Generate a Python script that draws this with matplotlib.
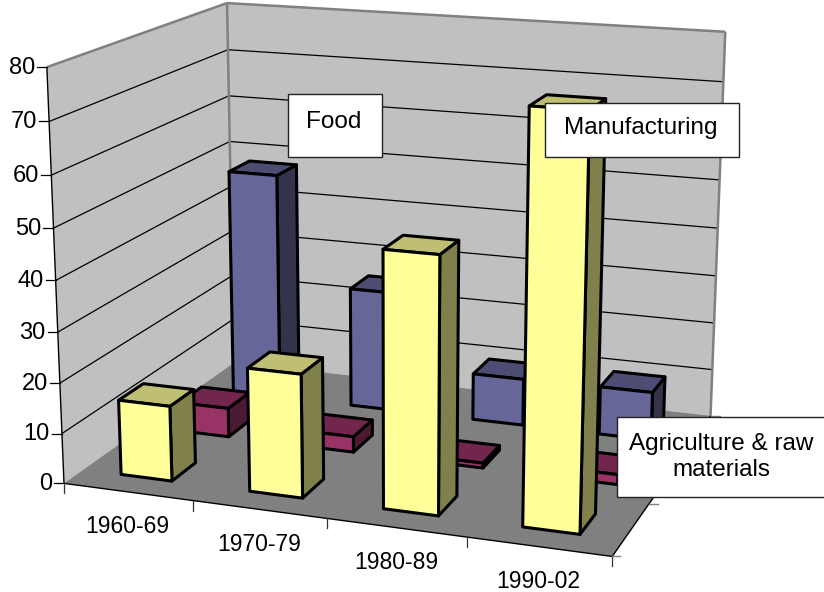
import numpy as np
import matplotlib
matplotlib.use("Agg")
import matplotlib.pyplot as plt
from matplotlib.patches import Polygon

plt.rcParams['font.family'] = ['Liberation Sans', 'DejaVu Sans']

categories = ["1960-69", "1970-79", "1980-89", "1990-02"]
series_names = ["Manufacturing", "Agriculture & raw materials", "Food"]
manufacturing = [15, 24.3, 49.5, 77.4]
agriculture = [6, 3.2, 1, 2]
food = [48, 25.3, 9.8, 10]
value_ticks = [0, 10, 20, 30, 40, 50, 60, 70, 80]

W, H = 824, 592
fig = plt.figure(figsize=(W / 100, H / 100), dpi=100)
ax = fig.add_axes([0, 0, 1, 1])
ax.set_xlim(0, W)
ax.set_ylim(H, 0)
ax.axis('off')

# Camera: projective map of (category, depth, value) fitted to the box corners
nx, ny, nz = len(categories), 3, 80
world = [(0, 0, 0), (0, 0, nz), (0, ny, 0), (0, ny, nz), (nx, ny, nz), (nx, ny, 0), (nx, 0, 0)]
screen = [(65, 483), (46, 67), (233, 363), (228, 3), (725, 32), (711, 415), (612, 557)]
A, b = [], []
for (X, Y, Z), (u, v) in zip(world, screen):
    A.append([X, Y, Z, 1, 0, 0, 0, 0, -u * X, -u * Y, -u * Z])
    A.append([0, 0, 0, 0, X, Y, Z, 1, -v * X, -v * Y, -v * Z])
    b += [u, v]
p = np.linalg.lstsq(np.array(A, float), np.array(b, float), rcond=None)[0]
P = np.append(p, 1.0).reshape(3, 4)


def proj(x, y, z):
    h = P @ np.array([x, y, z, 1.0])
    return h[0] / h[2], h[1] / h[2]


def quad(points, fc, ec='none', lw=0.0, z=1):
    ax.add_patch(Polygon([proj(*q) for q in points], closed=True, facecolor=fc,
                         edgecolor=ec, linewidth=lw, joinstyle='round', zorder=z))


def seg(a, b, color='black', lw=0.9, z=2):
    (x0, y0), (x1, y1) = proj(*a), proj(*b)
    ax.plot([x0, x1], [y0, y1], color=color, lw=lw, zorder=z, solid_capstyle='butt')


# walls and floor
quad([(0, 0, 0), (0, ny, 0), (0, ny, nz), (0, 0, nz)], '#C0C0C0')
quad([(0, ny, 0), (nx, ny, 0), (nx, ny, nz), (0, ny, nz)], '#C0C0C0')
quad([(0, 0, 0), (nx, 0, 0), (nx, ny, 0), (0, ny, 0)], '#808080')

for v in value_ticks[1:-1]:
    seg((0, 0, v), (0, ny, v))
    seg((0, ny, v), (nx, ny, v))
seg((0, 0, nz), (0, ny, nz), '#808080', 1.8)
seg((0, ny, nz), (nx, ny, nz), '#808080', 1.8)
seg((0, ny, 0), (0, ny, nz), '#808080', 1.8)
seg((nx, ny, 0), (nx, ny, nz), '#808080', 1.8)

# axes lines, ticks, labels
seg((0, 0, 0), (0, 0, nz), 'black', 1.0, 3)
seg((0, 0, 0), (nx, 0, 0), 'black', 1.0, 3)
seg((nx, 0, 0), (nx, ny, 0), 'black', 1.0, 3)
for v in value_ticks:
    u0, v0 = proj(0, 0, v)
    ax.plot([u0 - 10, u0], [v0, v0], color='black', lw=0.9, zorder=3)
    ax.text(u0 - 12, v0 + 0.5, str(v), ha='right', va='center', fontsize=17, color='black')
for i in range(nx + 1):
    u0, v0 = proj(i, 0, 0)
    ax.plot([u0, u0], [v0, v0 + 10], color='#333333', lw=0.9, zorder=3)
for k in range(1, ny + 1):
    u0, v0 = proj(nx, k, 0)
    ax.plot([u0, u0 + 9], [v0, v0], color='#808080', lw=1.0, zorder=3)
u0, v0 = proj(nx, 0, 0)
ax.plot([u0, u0 + 8], [v0, v0], color='#808080', lw=1.0, zorder=3)
for i, lab in enumerate(categories):
    u0, v0 = proj(i + 0.5, 0, 0)
    ax.text(u0, v0 + 35, lab, ha='center', va='center', fontsize=16.5, color='black')

# bars, back row to front
rows = [(2, food, '#666699', '#4D4D73', '#33334D'),
        (1, agriculture, '#993366', '#73264D', '#4D1A33'),
        (0, manufacturing, '#FFFF99', '#BFBF73', '#80804D')]
g = 0.3
bar_lw = 2.2
zo = 4
for k, vals, front, top, side in rows:
    for i, h in enumerate(vals):
        x0, x1 = i + g, i + 1 - g
        y0, y1 = k + g, k + 1 - g
        quad([(x1, y0, 0), (x1, y1, 0), (x1, y1, h), (x1, y0, h)], side, 'black', bar_lw, zo)
        quad([(x0, y0, h), (x1, y0, h), (x1, y1, h), (x0, y1, h)], top, 'black', bar_lw, zo)
        quad([(x0, y0, 0), (x1, y0, 0), (x1, y0, h), (x0, y0, h)], front, 'black', bar_lw, zo)
        zo += 1


def box(x0, y0, x1, y1, text, cx, cy):
    ax.add_patch(plt.Rectangle((x0, y0), x1 - x0, y1 - y0, facecolor='white',
                               edgecolor='#222222', linewidth=1.0, zorder=50))
    ax.text(cx, cy, text, ha='center', va='center', fontsize=17.5, color='black',
            zorder=51, linespacing=1.19)


box(288, 94, 382, 157, series_names[2], 334, 122)
box(545, 103, 739, 157, series_names[0], 641, 128)
box(617, 417, 830, 497, "Agriculture & raw\nmaterials", 721, 457)

fig.savefig('out.png', dpi=100)
